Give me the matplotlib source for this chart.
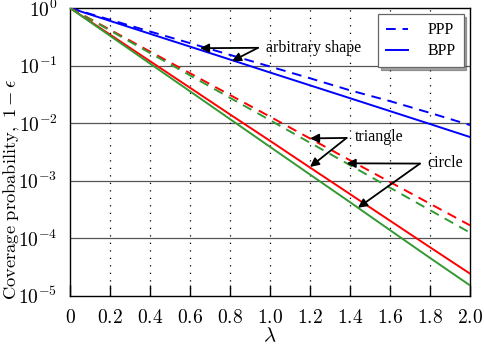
import matplotlib
matplotlib.use("Agg")
import matplotlib.pyplot as plt
from matplotlib.ticker import FixedLocator, FuncFormatter, NullLocator
import numpy as np

plt.rcParams['mathtext.fontset'] = 'cm'
plt.rcParams['font.family'] = ['Liberation Serif', 'DejaVu Serif']

# lambda values
lam = [0.0, 0.2, 0.4, 0.6, 0.8, 1.0, 1.2, 1.4, 1.6, 1.8, 2.0]

# coverage probability
arb_ppp = [1, 0.625, 0.39, 0.245, 0.153, 0.096, 0.060, 0.037, 0.024, 0.015, 0.0092]
arb_bpp = [1, 0.597, 0.356, 0.213, 0.127, 0.0756, 0.0452, 0.027, 0.0161, 0.0096, 0.0057]
tri_ppp = [1, 0.419, 0.175, 0.0734, 0.0307, 0.0129, 5.38e-3, 2.25e-3, 9.4e-4, 3.95e-4, 1.66e-4]
tri_bpp = [1, 0.345, 0.119, 0.041, 0.0141, 4.9e-3, 1.68e-3, 5.8e-4, 2.0e-4, 6.9e-5, 2.4e-5]
cir_ppp = [1, 0.407, 0.165, 0.0674, 0.0274, 0.0112, 4.54e-3, 1.85e-3, 7.5e-4, 3.05e-4, 1.24e-4]
cir_bpp = [1, 0.329, 0.108, 0.0356, 0.0117, 3.85e-3, 1.27e-3, 4.2e-4, 1.37e-4, 4.5e-5, 1.5e-5]

xticks = [0, 0.2, 0.4, 0.6, 0.8, 1.0, 1.2, 1.4, 1.6, 1.8, 2.0]
yticks = [1e-5, 1e-4, 1e-3, 1e-2, 1e-1, 1e0]

blue = (0, 0, 1)
red = (1, 0, 0)
green = '#339933'
dash = (0, (5, 3.5))
lw = 1.4

fig = plt.figure(figsize=(4.85, 3.48), dpi=100)
ax = fig.add_axes([70/485, 1 - 295.5/348, 400/485, 287.5/348])

# grid first so curves sit on top
for yv in yticks[1:-1]:
    ax.axhline(yv, color='#555555', lw=0.9, zorder=1)
for xv in xticks[1:-1]:
    ax.axvline(xv, color='black', lw=0.9, ls=(0, (1, 5)), zorder=1)

ax.plot(lam, arb_ppp, color=blue, ls=dash, lw=lw, label='PPP', zorder=3)
ax.plot(lam, arb_bpp, color=blue, lw=lw, label='BPP', zorder=3)
ax.plot(lam, tri_ppp, color=red, ls=dash, lw=lw, zorder=3)
ax.plot(lam, cir_ppp, color=green, ls=dash, lw=lw, zorder=3)
ax.plot(lam, tri_bpp, color=red, lw=lw, zorder=3)
ax.plot(lam, cir_bpp, color=green, lw=lw, zorder=3)

ax.set_yscale('log')
ax.set_xlim(0, 2.0)
ax.set_ylim(1e-5, 1)

ax.xaxis.set_major_locator(FixedLocator(xticks))
ax.xaxis.set_major_formatter(FuncFormatter(lambda v, p: r'$0$' if v == 0 else r'$%.1f$' % v))
ax.yaxis.set_major_locator(FixedLocator(yticks))
ax.yaxis.set_minor_locator(NullLocator())
ax.yaxis.set_major_formatter(FuncFormatter(lambda v, p: r'$10^{%d}$' % round(np.log10(v))))
ax.tick_params(axis='x', direction='in', length=8, width=1, labelsize=14, pad=10)
ax.tick_params(axis='y', length=0, labelsize=14, pad=9)
for s in ax.spines.values():
    s.set_linewidth(1.0)

ax.set_xlabel(r'$\lambda$', fontsize=15, labelpad=0)
ax.set_ylabel(r'$\mathrm{Coverage\ probability,}\ 1-\epsilon$', fontsize=13.3)
ax.yaxis.set_label_coords(-0.12, 0.37)

arrow = dict(arrowstyle='-|>', color='black', lw=1.3, shrinkA=0, shrinkB=0,
             mutation_scale=13)

# annotations (tips on the curves)
ax.annotate('', xy=(0.65, 0.2), xytext=(0.94, 0.203), arrowprops=arrow)
ax.annotate('', xy=(0.81, 0.119), xytext=(0.94, 0.203), arrowprops=arrow)
ax.text(0.98, 0.205, 'arbitrary shape', fontsize=11.5, va='center', ha='left')

ax.annotate('', xy=(1.2, 5.4e-3), xytext=(1.383, 5.5e-3), arrowprops=arrow)
ax.annotate('', xy=(1.2, 1.72e-3), xytext=(1.383, 5.5e-3), arrowprops=arrow)
ax.text(1.425, 5.6e-3, 'triangle', fontsize=11.5, va='center', ha='left')

ax.annotate('', xy=(1.383, 1.99e-3), xytext=(1.75, 1.97e-3), arrowprops=arrow)
ax.annotate('', xy=(1.44, 3.36e-4), xytext=(1.75, 1.97e-3), arrowprops=arrow)
ax.text(1.785, 2.0e-3, 'circle', fontsize=11.5, va='center', ha='left')

leg = ax.legend(loc='upper right', fontsize=11.5, fancybox=False, shadow=True,
                framealpha=1, edgecolor='#666666', handlelength=1.4,
                borderaxespad=0.4, borderpad=0.5, labelspacing=0.3,
                handletextpad=1.2)
leg.get_frame().set_linewidth(0.9)
leg.set_zorder(5)

fig.savefig('out.png', dpi=100)
